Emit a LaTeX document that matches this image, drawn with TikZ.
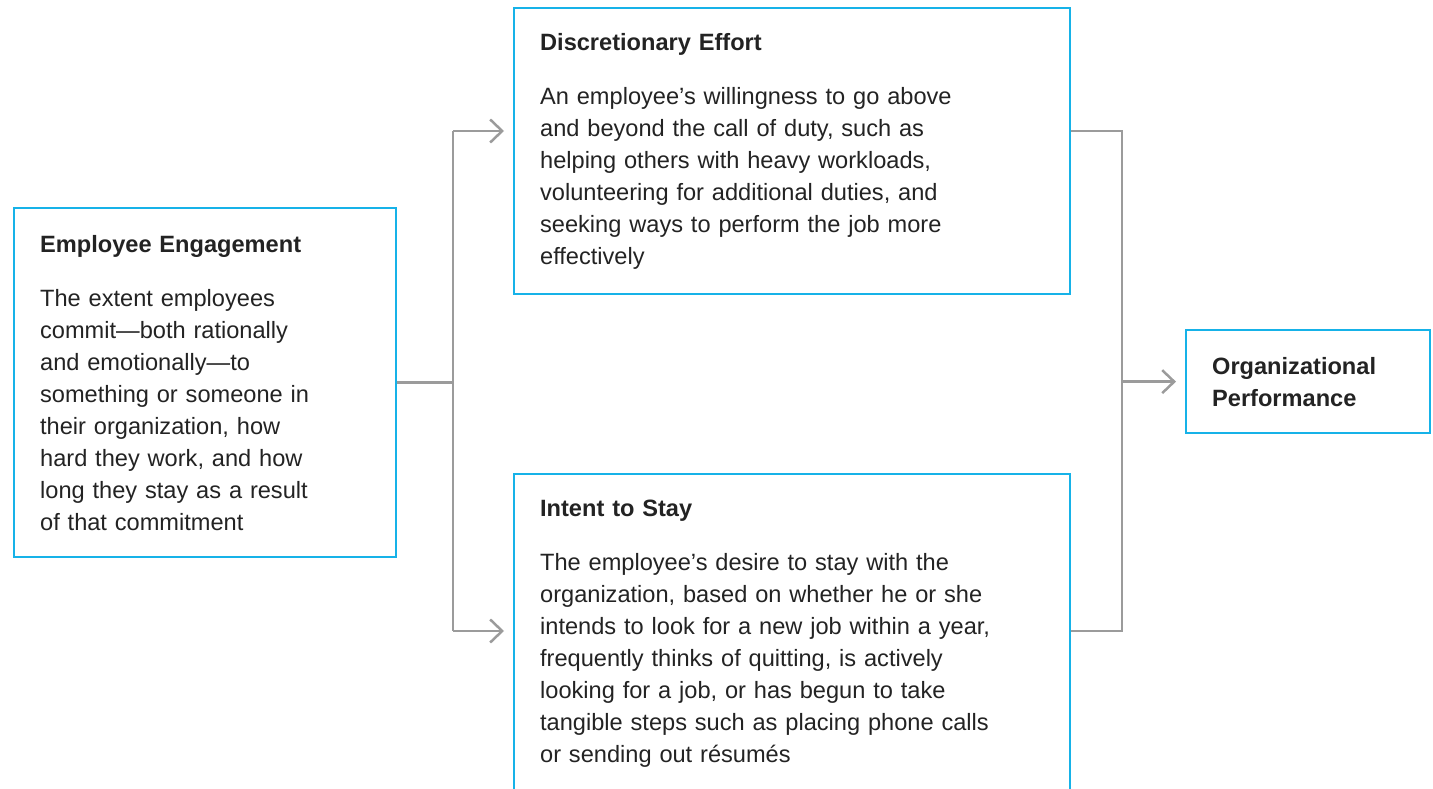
\documentclass[tikz,border=0pt]{standalone}
\usepackage{fontspec}
\setmainfont{Liberation Sans}
\usetikzlibrary{arrows.meta,positioning,calc}
\definecolor{engblue}{RGB}{22,178,232}
\definecolor{enggray}{RGB}{155,155,155}
\definecolor{engtext}{RGB}{35,35,35}

\begin{document}
\begin{tikzpicture}[x=1pt,y=-1pt,
  font=\fontsize{23.6}{32}\selectfont, >={Straight Barb[length=12pt,width=23pt]},
  card/.style={draw=engblue,line width=2.3pt,anchor=north west,align=left,
    inner xsep=26pt,inner ysep=0pt,text=engtext,fill=white},
  link/.style={draw=enggray,line width=2.5pt},
  arr/.style={->,link,shorten >=9pt}
]
\useasboundingbox (0,0) rectangle (1433,789);

\node[card,text width=330pt,minimum height=349pt] (ee) at (13,207)
 {\textbf{Employee Engagement}\\[22pt]The extent employees\\commit---both rationally\\and emotionally---to\\something or someone in\\their organization, how\\hard they work, and how\\long they stay as a result\\of that commitment};

\node[card,text width=504pt,minimum height=286pt] (de) at (513,7)
 {\textbf{Discretionary Effort}\\[22pt]An employee's willingness to go above\\and beyond the call of duty, such as\\helping others with heavy workloads,\\volunteering for additional duties, and\\seeking ways to perform the job more\\effectively};

\node[card,text width=504pt,minimum height=320pt] (is) at (513,473)
 {\textbf{Intent to Stay}\\[22pt]The employee's desire to stay with the\\organization, based on whether he or she\\intends to look for a new job within a year,\\frequently thinks of quitting, is actively\\looking for a job, or has begun to take\\tangible steps such as placing phone calls\\or sending out résumés};

\node[card,text width=192pt,minimum height=103pt] (op) at (1185,329)
 {\textbf{Organizational}\\\textbf{Performance}};

% split from engagement
\coordinate (ltop) at (453,131);
\coordinate (lbot) at (453,631);
\draw[link] (ee.east) -- (ee.east -| ltop);
\draw[link] (ltop) -- (lbot);
\draw[arr] (ltop) -- (ltop -| de.west);
\draw[arr] (lbot) -- (lbot -| is.west);

% join into performance
\coordinate (rtop) at (1122,131);
\coordinate (rbot) at (1122,631);
\draw[link] (rtop -| de.east) -- (rtop) -- (rbot) -- (rbot -| is.east);
\draw[arr] (op.west -| rtop) -- (op.west);
\end{tikzpicture}
\end{document}
